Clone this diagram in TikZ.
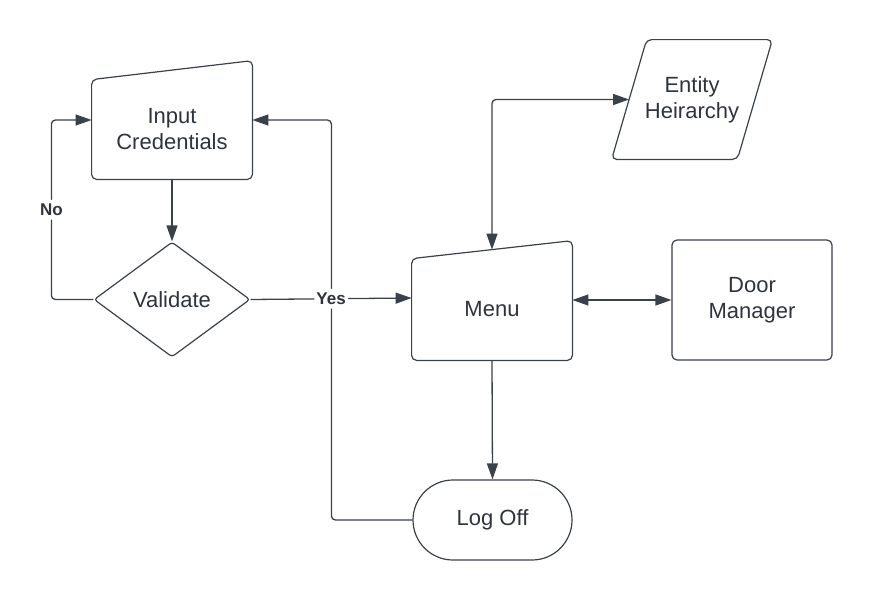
\documentclass[tikz,border=0pt]{standalone}
\usepackage{fontspec}
\setmainfont{Liberation Sans}
\usetikzlibrary{arrows.meta,shapes.geometric,positioning}

\definecolor{linegray}{HTML}{3A414A}
\definecolor{textgray}{HTML}{2E333C}

\tikzset{
    flowline/.style={draw=linegray, line width=0.65pt, rounded corners=2pt},
    tipend/.style={-{Triangle[length=8pt,width=5.5pt]}},
    tipboth/.style={{Triangle[length=8pt,width=5.5pt]}-{Triangle[length=8pt,width=5.5pt]}},
    boxtext/.style={text=textgray, font=\fontsize{11}{13}\selectfont, align=center, inner sep=0pt},
    outline/.style={draw=linegray, line width=0.6pt, rounded corners=2.5pt},
    decision/.style={boxtext, diamond, minimum width=78pt, minimum height=57.5pt, outline, rounded corners=1.5pt},
    processbox/.style={boxtext, rectangle, minimum width=80pt, minimum height=60pt, outline},
    terminal/.style={boxtext, rectangle, minimum width=79.5pt, minimum height=40pt, outline, rounded corners=20pt},
    edgelabel/.style={text=textgray, font=\fontsize{8.5}{10}\selectfont\bfseries, fill=white, inner xsep=1pt, inner ysep=2pt},
}

\begin{document}
\begin{tikzpicture}[x=0.5pt, y=-0.5pt]
    \useasboundingbox (0,0) rectangle (872,600);

    % manual input shapes (top edge slanted)
    \node[boxtext, minimum width=80pt, minimum height=49.5pt] (input) at (172,129.5) {Input\\Credentials};
    \draw[outline] (input.south west) -- (input.north west) -- ([yshift=9.5pt]input.north east) -- (input.south east) -- cycle;

    \node[boxtext, minimum width=80pt, minimum height=50.5pt] (menu) at (492,309.5) {Menu};
    \draw[outline] (menu.south west) -- (menu.north west) -- ([yshift=9pt]menu.north east) -- (menu.south east) -- cycle;

    % data shape (parallelogram)
    \node[boxtext, minimum width=62.5pt, minimum height=59.5pt] (entity) at (692,99.5) {Entity\\Heirarchy};
    \draw[outline] ([xshift=-8.75pt]entity.south west) -- ([xshift=8.75pt]entity.north west)
        -- ([xshift=8.75pt]entity.north east) -- ([xshift=-8.75pt]entity.south east) -- cycle;

    % other nodes
    \node[decision] (validate) at (172,299.5) {Validate};
    \node[processbox] (door) at (752,300) {Door\\Manager};
    \node[terminal] (logoff) at (492.5,520) {Log Off};

    % connectors
    \draw[flowline, tipend] (input.south) -- (validate.north);
    \draw[flowline, tipend] (validate.west) -- ++(-42,0) |- ([yshift=4.75pt]input.west)
        node[edgelabel, pos=0.25] {No};
    \draw[flowline, tipend] (logoff.west) -- ++(-81,0) |- ([yshift=4.75pt]input.east);
    \draw[flowline, tipend] (validate.east) -- node[edgelabel] {Yes} ([yshift=5.75pt]menu.west);
    \draw[flowline, tipboth] ([yshift=4.5pt]menu.north) |- (entity.west);
    \draw[flowline, tipboth] ([yshift=4.75pt]menu.east) -- (door.west);
    \draw[flowline, tipend] (menu.south) -- (logoff.north);
\end{tikzpicture}
\end{document}
